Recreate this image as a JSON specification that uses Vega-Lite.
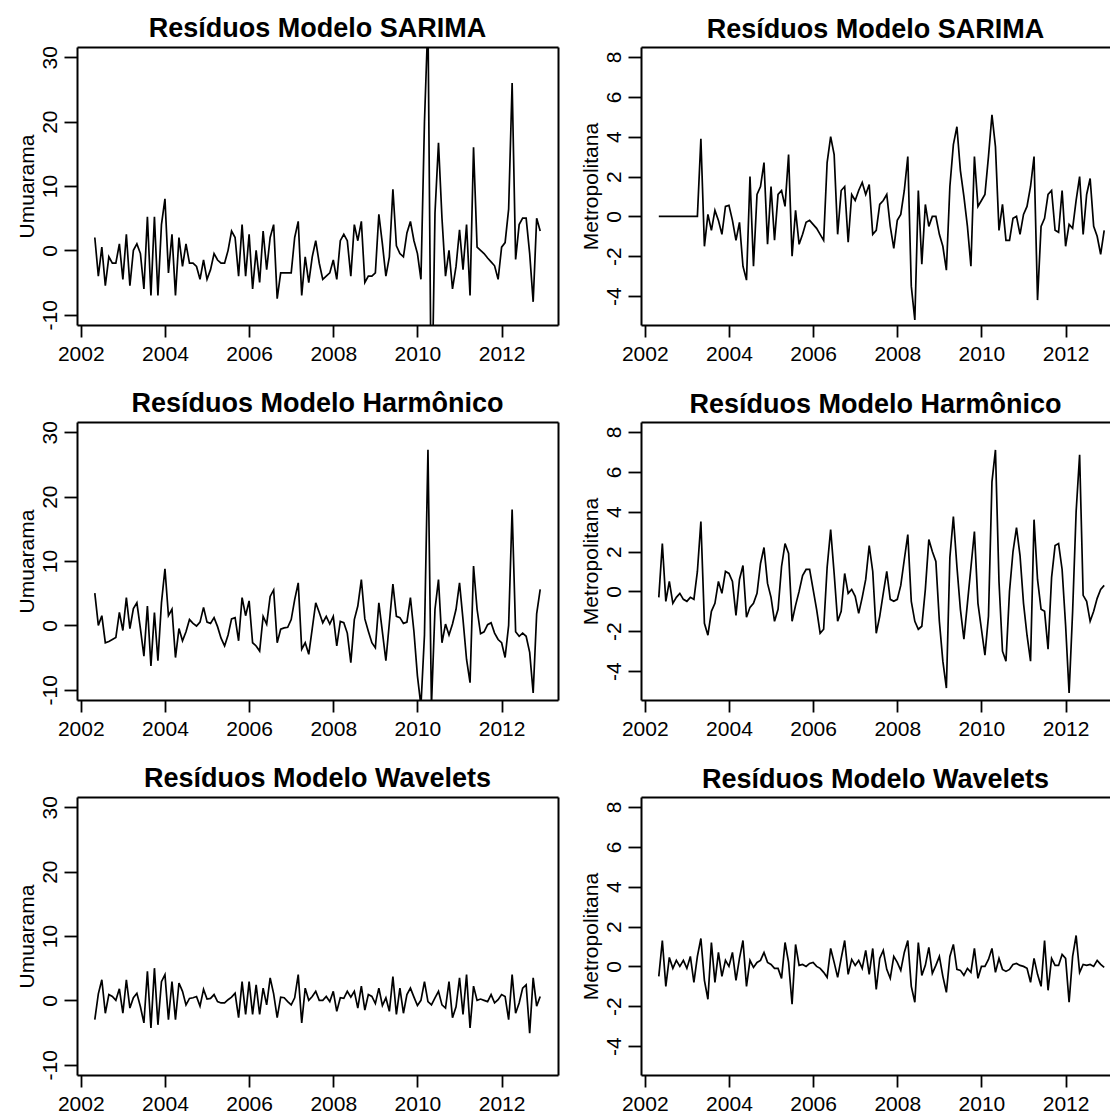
{
"$schema": "https://vega.github.io/schema/vega-lite/v6.json",
"background": "white",
"padding": {"left": 16, "top": 14, "right": 0, "bottom": 0},
"config": {
  "font": "Liberation Sans",
  "view": {"stroke": null},
  "title": {"font": "Liberation Sans", "fontSize": 27, "fontWeight": "bold", "color": "black", "anchor": "middle", "frame": "group", "offset": 3, "baseline": "alphabetic"},
  "axis": {"labelFont": "Liberation Sans", "labelFontSize": 21, "labelColor": "black", "titleFont": "Liberation Sans", "titleFontSize": 21, "titleFontWeight": "normal", "titleColor": "black", "tickColor": "black", "domainColor": "black", "tickSize": 13, "tickWidth": 1.8, "domainWidth": 2, "grid": false, "labelFlush": false, "labelOverlap": false, "labelBound": false},
  "axisX": {"labelAngle": 0, "labelAlign": "center", "labelBaseline": "top", "labelPadding": 6, "tickSize": 12},
  "axisY": {"labelAngle": -90, "labelAlign": "center", "labelBaseline": "alphabetic", "labelPadding": 8, "titleAngle": -90, "titleAlign": "center", "titleBaseline": "alphabetic", "titleX": -44, "titleY": 139}
},
"datasets": {
"A": [{"t":2002.333,"v":2},{"t":2002.417,"v":-4},{"t":2002.5,"v":0.5},{"t":2002.583,"v":-5.5},{"t":2002.667,"v":-1},{"t":2002.75,"v":-2},{"t":2002.833,"v":-2},{"t":2002.917,"v":1},
{"t":2003,"v":-4.5},{"t":2003.083,"v":2.5},{"t":2003.167,"v":-5.5},{"t":2003.25,"v":0},{"t":2003.333,"v":1},{"t":2003.417,"v":-0.5},{"t":2003.5,"v":-6},{"t":2003.583,"v":5.2},{"t":2003.667,"v":-7},{"t":2003.75,"v":5.2},{"t":2003.833,"v":-7},{"t":2003.917,"v":4},
{"t":2004,"v":8},{"t":2004.083,"v":-3.5},{"t":2004.167,"v":2.5},{"t":2004.25,"v":-7},{"t":2004.333,"v":2},{"t":2004.417,"v":-2.5},{"t":2004.5,"v":1},{"t":2004.583,"v":-2},{"t":2004.667,"v":-2},{"t":2004.75,"v":-2.5},{"t":2004.833,"v":-4.5},{"t":2004.917,"v":-1.5},
{"t":2005,"v":-4.5},{"t":2005.083,"v":-3},{"t":2005.167,"v":-0.5},{"t":2005.25,"v":-1.5},{"t":2005.333,"v":-2},{"t":2005.417,"v":-2},{"t":2005.5,"v":0},{"t":2005.583,"v":3},{"t":2005.667,"v":2},{"t":2005.75,"v":-4},{"t":2005.833,"v":4},{"t":2005.917,"v":-4},
{"t":2006,"v":2.5},{"t":2006.083,"v":-6},{"t":2006.167,"v":0},{"t":2006.25,"v":-5},{"t":2006.333,"v":3},{"t":2006.417,"v":-3},{"t":2006.5,"v":2},{"t":2006.583,"v":4},{"t":2006.667,"v":-7.5},{"t":2006.75,"v":-3.5},{"t":2006.833,"v":-3.5},{"t":2006.917,"v":-3.5},
{"t":2007,"v":-3.5},{"t":2007.083,"v":2},{"t":2007.167,"v":4.5},{"t":2007.25,"v":-7},{"t":2007.333,"v":-1},{"t":2007.417,"v":-5},{"t":2007.5,"v":-1},{"t":2007.583,"v":1.5},{"t":2007.667,"v":-2},{"t":2007.75,"v":-4.5},{"t":2007.833,"v":-4},{"t":2007.917,"v":-3.5},
{"t":2008,"v":-1.5},{"t":2008.083,"v":-4.5},{"t":2008.167,"v":1.5},{"t":2008.25,"v":2.5},{"t":2008.333,"v":1.5},{"t":2008.417,"v":-4},{"t":2008.5,"v":4},{"t":2008.583,"v":1.5},{"t":2008.667,"v":4.5},{"t":2008.75,"v":-5},{"t":2008.833,"v":-4},{"t":2008.917,"v":-4},
{"t":2009,"v":-3.5},{"t":2009.083,"v":5.6},{"t":2009.167,"v":1},{"t":2009.25,"v":-4},{"t":2009.333,"v":-1},{"t":2009.417,"v":9.5},{"t":2009.5,"v":0.7},{"t":2009.583,"v":-0.5},{"t":2009.667,"v":-1},{"t":2009.75,"v":2.7},{"t":2009.833,"v":4.5},{"t":2009.917,"v":1.5},
{"t":2010,"v":-0.5},{"t":2010.083,"v":-4.5},{"t":2010.167,"v":20},{"t":2010.25,"v":36},{"t":2010.333,"v":-28},{"t":2010.417,"v":5.8},{"t":2010.5,"v":16.7},{"t":2010.583,"v":5},{"t":2010.667,"v":-4},{"t":2010.75,"v":0},{"t":2010.833,"v":-6},{"t":2010.917,"v":-2.5},
{"t":2011,"v":3.2},{"t":2011.083,"v":-3},{"t":2011.167,"v":4},{"t":2011.25,"v":-7},{"t":2011.333,"v":16},{"t":2011.417,"v":0.5},{"t":2011.5,"v":0},{"t":2011.583,"v":-0.5},{"t":2011.667,"v":-1.2},{"t":2011.75,"v":-1.8},{"t":2011.833,"v":-2.4},{"t":2011.917,"v":-4.5},
{"t":2012,"v":0.5},{"t":2012.083,"v":1.2},{"t":2012.167,"v":6.4},{"t":2012.25,"v":26},{"t":2012.333,"v":-1.4},{"t":2012.417,"v":4},{"t":2012.5,"v":5},{"t":2012.583,"v":5},{"t":2012.667,"v":-0.5},{"t":2012.75,"v":-8},{"t":2012.833,"v":5},{"t":2012.917,"v":3}],
"B": [{"t":2002.333,"v":0},{"t":2002.417,"v":0},{"t":2002.5,"v":0},{"t":2002.583,"v":0},{"t":2002.667,"v":0},{"t":2002.75,"v":0},{"t":2002.833,"v":0},{"t":2002.917,"v":0},
{"t":2003,"v":0},{"t":2003.083,"v":0},{"t":2003.167,"v":0},{"t":2003.25,"v":0},{"t":2003.333,"v":3.9},{"t":2003.417,"v":-1.5},{"t":2003.5,"v":0.1},{"t":2003.583,"v":-0.7},{"t":2003.667,"v":0.3},{"t":2003.75,"v":-0.2},{"t":2003.833,"v":-0.9},{"t":2003.917,"v":0.5},
{"t":2004,"v":0.55},{"t":2004.083,"v":-0.2},{"t":2004.167,"v":-1.2},{"t":2004.25,"v":-0.3},{"t":2004.333,"v":-2.5},{"t":2004.417,"v":-3.2},{"t":2004.5,"v":2},{"t":2004.583,"v":-2.5},{"t":2004.667,"v":1.1},{"t":2004.75,"v":1.5},{"t":2004.833,"v":2.7},{"t":2004.917,"v":-1.4},
{"t":2005,"v":1.5},{"t":2005.083,"v":-1.2},{"t":2005.167,"v":1.1},{"t":2005.25,"v":1.3},{"t":2005.333,"v":0.5},{"t":2005.417,"v":3.1},{"t":2005.5,"v":-2},{"t":2005.583,"v":0.3},{"t":2005.667,"v":-1.4},{"t":2005.75,"v":-0.9},{"t":2005.833,"v":-0.3},{"t":2005.917,"v":-0.2},
{"t":2006,"v":-0.4},{"t":2006.083,"v":-0.6},{"t":2006.167,"v":-0.9},{"t":2006.25,"v":-1.2},{"t":2006.333,"v":2.7},{"t":2006.417,"v":4},{"t":2006.5,"v":3.1},{"t":2006.583,"v":-0.9},{"t":2006.667,"v":1.3},{"t":2006.75,"v":1.5},{"t":2006.833,"v":-1.3},{"t":2006.917,"v":1.1},
{"t":2007,"v":0.8},{"t":2007.083,"v":1.3},{"t":2007.167,"v":1.7},{"t":2007.25,"v":1.1},{"t":2007.333,"v":1.6},{"t":2007.417,"v":-0.9},{"t":2007.5,"v":-0.7},{"t":2007.583,"v":0.6},{"t":2007.667,"v":0.8},{"t":2007.75,"v":1.1},{"t":2007.833,"v":-0.5},{"t":2007.917,"v":-1.6},
{"t":2008,"v":-0.2},{"t":2008.083,"v":0.1},{"t":2008.167,"v":1.3},{"t":2008.25,"v":3},{"t":2008.333,"v":-3.5},{"t":2008.417,"v":-5.2},{"t":2008.5,"v":1.3},{"t":2008.583,"v":-2.4},{"t":2008.667,"v":0.6},{"t":2008.75,"v":-0.5},{"t":2008.833,"v":0},{"t":2008.917,"v":0},
{"t":2009,"v":-0.9},{"t":2009.083,"v":-1.5},{"t":2009.167,"v":-2.7},{"t":2009.25,"v":1.5},{"t":2009.333,"v":3.6},{"t":2009.417,"v":4.5},{"t":2009.5,"v":2.3},{"t":2009.583,"v":1},{"t":2009.667,"v":-0.5},{"t":2009.75,"v":-2.5},{"t":2009.833,"v":3},{"t":2009.917,"v":0.5},
{"t":2010,"v":0.8},{"t":2010.083,"v":1.1},{"t":2010.167,"v":3},{"t":2010.25,"v":5.1},{"t":2010.333,"v":3.5},{"t":2010.417,"v":-0.7},{"t":2010.5,"v":0.6},{"t":2010.583,"v":-1.2},{"t":2010.667,"v":-1.2},{"t":2010.75,"v":-0.1},{"t":2010.833,"v":0},{"t":2010.917,"v":-0.9},
{"t":2011,"v":0.1},{"t":2011.083,"v":0.5},{"t":2011.167,"v":1.5},{"t":2011.25,"v":3},{"t":2011.333,"v":-4.2},{"t":2011.417,"v":-0.5},{"t":2011.5,"v":-0.1},{"t":2011.583,"v":1.1},{"t":2011.667,"v":1.3},{"t":2011.75,"v":-0.7},{"t":2011.833,"v":-0.8},{"t":2011.917,"v":1.3},
{"t":2012,"v":-1.5},{"t":2012.083,"v":-0.4},{"t":2012.167,"v":-0.6},{"t":2012.25,"v":0.8},{"t":2012.333,"v":2},{"t":2012.417,"v":-0.9},{"t":2012.5,"v":1.1},{"t":2012.583,"v":1.9},{"t":2012.667,"v":-0.5},{"t":2012.75,"v":-1},{"t":2012.833,"v":-1.9},{"t":2012.917,"v":-0.7}],
"C": [{"t":2002.333,"v":5},{"t":2002.417,"v":0},{"t":2002.5,"v":1.5},{"t":2002.583,"v":-2.7},{"t":2002.667,"v":-2.5},{"t":2002.75,"v":-2.2},{"t":2002.833,"v":-1.9},{"t":2002.917,"v":2},
{"t":2003,"v":-0.8},{"t":2003.083,"v":4.3},{"t":2003.167,"v":-0.5},{"t":2003.25,"v":2.6},{"t":2003.333,"v":3.5},{"t":2003.417,"v":-0.5},{"t":2003.5,"v":-4.8},{"t":2003.583,"v":3},{"t":2003.667,"v":-6.3},{"t":2003.75,"v":2},{"t":2003.833,"v":-5.5},{"t":2003.917,"v":3.5},
{"t":2004,"v":8.8},{"t":2004.083,"v":1.5},{"t":2004.167,"v":2.5},{"t":2004.25,"v":-5},{"t":2004.333,"v":-0.5},{"t":2004.417,"v":-2.4},{"t":2004.5,"v":-1},{"t":2004.583,"v":0.9},{"t":2004.667,"v":0.3},{"t":2004.75,"v":-0.1},{"t":2004.833,"v":0.5},{"t":2004.917,"v":2.8},
{"t":2005,"v":0.5},{"t":2005.083,"v":0.3},{"t":2005.167,"v":1.2},{"t":2005.25,"v":-0.2},{"t":2005.333,"v":-2},{"t":2005.417,"v":-3.2},{"t":2005.5,"v":-1.5},{"t":2005.583,"v":1},{"t":2005.667,"v":1.2},{"t":2005.75,"v":-2.4},{"t":2005.833,"v":4.3},{"t":2005.917,"v":1.5},
{"t":2006,"v":3.8},{"t":2006.083,"v":-2.7},{"t":2006.167,"v":-3.2},{"t":2006.25,"v":-4},{"t":2006.333,"v":1.4},{"t":2006.417,"v":0.2},{"t":2006.5,"v":4.5},{"t":2006.583,"v":5.5},{"t":2006.667,"v":-2.7},{"t":2006.75,"v":-0.6},{"t":2006.833,"v":-0.4},{"t":2006.917,"v":-0.3},
{"t":2007,"v":0.9},{"t":2007.083,"v":4},{"t":2007.167,"v":6.6},{"t":2007.25,"v":-3.7},{"t":2007.333,"v":-2.7},{"t":2007.417,"v":-4.5},{"t":2007.5,"v":-0.5},{"t":2007.583,"v":3.5},{"t":2007.667,"v":2},{"t":2007.75,"v":0.4},{"t":2007.833,"v":1.4},{"t":2007.917,"v":0.2},
{"t":2008,"v":1.4},{"t":2008.083,"v":-3.2},{"t":2008.167,"v":0.6},{"t":2008.25,"v":0.4},{"t":2008.333,"v":-1.2},{"t":2008.417,"v":-5.8},{"t":2008.5,"v":0.9},{"t":2008.583,"v":3},{"t":2008.667,"v":7.1},{"t":2008.75,"v":1},{"t":2008.833,"v":-0.9},{"t":2008.917,"v":-2.7},
{"t":2009,"v":-3.5},{"t":2009.083,"v":3.5},{"t":2009.167,"v":-1},{"t":2009.25,"v":-5.5},{"t":2009.333,"v":0.4},{"t":2009.417,"v":6.4},{"t":2009.5,"v":1.4},{"t":2009.583,"v":1.2},{"t":2009.667,"v":0.3},{"t":2009.75,"v":0.5},{"t":2009.833,"v":4.3},{"t":2009.917,"v":-1},
{"t":2010,"v":-7.9},{"t":2010.083,"v":-12.5},{"t":2010.167,"v":-1.5},{"t":2010.25,"v":27.3},{"t":2010.333,"v":-12.5},{"t":2010.417,"v":2.5},{"t":2010.5,"v":7.1},{"t":2010.583,"v":-2.7},{"t":2010.667,"v":0.2},{"t":2010.75,"v":-1.5},{"t":2010.833,"v":0.2},{"t":2010.917,"v":2.5},
{"t":2011,"v":6.6},{"t":2011.083,"v":0.9},{"t":2011.167,"v":-5.3},{"t":2011.25,"v":-8.9},{"t":2011.333,"v":9.2},{"t":2011.417,"v":2.5},{"t":2011.5,"v":-1.3},{"t":2011.583,"v":-1},{"t":2011.667,"v":0.1},{"t":2011.75,"v":0.4},{"t":2011.833,"v":-1.2},{"t":2011.917,"v":-2.2},
{"t":2012,"v":-2.7},{"t":2012.083,"v":-5},{"t":2012.167,"v":0},{"t":2012.25,"v":18},{"t":2012.333,"v":-1},{"t":2012.417,"v":-1.7},{"t":2012.5,"v":-1.2},{"t":2012.583,"v":-1.7},{"t":2012.667,"v":-4.2},{"t":2012.75,"v":-10.5},{"t":2012.833,"v":1.8},{"t":2012.917,"v":5.6}],
"D": [{"t":2002.333,"v":-0.3},{"t":2002.417,"v":2.4},{"t":2002.5,"v":-0.5},{"t":2002.583,"v":0.5},{"t":2002.667,"v":-0.6},{"t":2002.75,"v":-0.3},{"t":2002.833,"v":-0.1},{"t":2002.917,"v":-0.4},
{"t":2003,"v":-0.5},{"t":2003.083,"v":-0.3},{"t":2003.167,"v":-0.4},{"t":2003.25,"v":1},{"t":2003.333,"v":3.5},{"t":2003.417,"v":-1.6},{"t":2003.5,"v":-2.2},{"t":2003.583,"v":-1},{"t":2003.667,"v":-0.6},{"t":2003.75,"v":0.5},{"t":2003.833,"v":-0.1},{"t":2003.917,"v":1},
{"t":2004,"v":0.9},{"t":2004.083,"v":0.5},{"t":2004.167,"v":-1.2},{"t":2004.25,"v":0.6},{"t":2004.333,"v":1.3},{"t":2004.417,"v":-1.3},{"t":2004.5,"v":-0.8},{"t":2004.583,"v":-0.6},{"t":2004.667,"v":-0.1},{"t":2004.75,"v":1.4},{"t":2004.833,"v":2.2},{"t":2004.917,"v":0.4},
{"t":2005,"v":-0.3},{"t":2005.083,"v":-1.5},{"t":2005.167,"v":-0.9},{"t":2005.25,"v":1.25},{"t":2005.333,"v":2.4},{"t":2005.417,"v":1.9},{"t":2005.5,"v":-1.5},{"t":2005.583,"v":-0.7},{"t":2005.667,"v":0},{"t":2005.75,"v":0.8},{"t":2005.833,"v":1.1},{"t":2005.917,"v":1.1},
{"t":2006,"v":0.1},{"t":2006.083,"v":-0.9},{"t":2006.167,"v":-2.1},{"t":2006.25,"v":-1.9},{"t":2006.333,"v":1.2},{"t":2006.417,"v":3.1},{"t":2006.5,"v":0.9},{"t":2006.583,"v":-1.5},{"t":2006.667,"v":-1},{"t":2006.75,"v":0.9},{"t":2006.833,"v":-0.1},{"t":2006.917,"v":0.1},
{"t":2007,"v":-0.25},{"t":2007.083,"v":-1.1},{"t":2007.167,"v":-0.3},{"t":2007.25,"v":0.6},{"t":2007.333,"v":2.3},{"t":2007.417,"v":1},{"t":2007.5,"v":-2.1},{"t":2007.583,"v":-1.25},{"t":2007.667,"v":-0.1},{"t":2007.75,"v":1},{"t":2007.833,"v":-0.4},{"t":2007.917,"v":-0.5},
{"t":2008,"v":-0.4},{"t":2008.083,"v":0.3},{"t":2008.167,"v":1.6},{"t":2008.25,"v":2.85},{"t":2008.333,"v":-0.5},{"t":2008.417,"v":-1.5},{"t":2008.5,"v":-1.9},{"t":2008.583,"v":-1.75},{"t":2008.667,"v":0.1},{"t":2008.75,"v":2.6},{"t":2008.833,"v":2},{"t":2008.917,"v":1.5},
{"t":2009,"v":-1.5},{"t":2009.083,"v":-3.5},{"t":2009.167,"v":-4.85},{"t":2009.25,"v":1.7},{"t":2009.333,"v":3.75},{"t":2009.417,"v":1.25},{"t":2009.5,"v":-0.9},{"t":2009.583,"v":-2.4},{"t":2009.667,"v":-0.6},{"t":2009.75,"v":1.2},{"t":2009.833,"v":3},{"t":2009.917,"v":-0.6},
{"t":2010,"v":-1.9},{"t":2010.083,"v":-3.2},{"t":2010.167,"v":-1.25},{"t":2010.25,"v":5.5},{"t":2010.333,"v":7.1},{"t":2010.417,"v":0.5},{"t":2010.5,"v":-3},{"t":2010.583,"v":-3.5},{"t":2010.667,"v":0},{"t":2010.75,"v":2},{"t":2010.833,"v":3.2},{"t":2010.917,"v":1.8},
{"t":2011,"v":-0.6},{"t":2011.083,"v":-2.2},{"t":2011.167,"v":-3.5},{"t":2011.25,"v":3.6},{"t":2011.333,"v":0.6},{"t":2011.417,"v":-0.9},{"t":2011.5,"v":-1},{"t":2011.583,"v":-2.9},{"t":2011.667,"v":0.7},{"t":2011.75,"v":2.3},{"t":2011.833,"v":2.4},{"t":2011.917,"v":1.1},
{"t":2012,"v":-1.7},{"t":2012.083,"v":-5.1},{"t":2012.167,"v":-1},{"t":2012.25,"v":4},{"t":2012.333,"v":6.85},{"t":2012.417,"v":-0.2},{"t":2012.5,"v":-0.5},{"t":2012.583,"v":-1.5},{"t":2012.667,"v":-1},{"t":2012.75,"v":-0.35},{"t":2012.833,"v":0.1},{"t":2012.917,"v":0.3}],
"E": [{"t":2002.333,"v":-3},{"t":2002.417,"v":1},{"t":2002.5,"v":3.2},{"t":2002.583,"v":-2},{"t":2002.667,"v":0.9},{"t":2002.75,"v":0.6},{"t":2002.833,"v":0},{"t":2002.917,"v":1.8},
{"t":2003,"v":-2},{"t":2003.083,"v":3.2},{"t":2003.167,"v":-1.2},{"t":2003.25,"v":0.4},{"t":2003.333,"v":1.1},{"t":2003.417,"v":-1},{"t":2003.5,"v":-3.5},{"t":2003.583,"v":4.5},{"t":2003.667,"v":-4.3},{"t":2003.75,"v":5},{"t":2003.833,"v":-3.8},{"t":2003.917,"v":2.9},
{"t":2004,"v":4},{"t":2004.083,"v":-3},{"t":2004.167,"v":2.9},{"t":2004.25,"v":-3},{"t":2004.333,"v":2.7},{"t":2004.417,"v":1.4},{"t":2004.5,"v":-0.7},{"t":2004.583,"v":0.3},{"t":2004.667,"v":0.4},{"t":2004.75,"v":0.6},{"t":2004.833,"v":-0.9},{"t":2004.917,"v":1.7},
{"t":2005,"v":0.2},{"t":2005.083,"v":0.3},{"t":2005.167,"v":0.9},{"t":2005.25,"v":-0.2},{"t":2005.333,"v":-0.4},{"t":2005.417,"v":-0.4},{"t":2005.5,"v":0.1},{"t":2005.583,"v":0.5},{"t":2005.667,"v":1.1},{"t":2005.75,"v":-2.7},{"t":2005.833,"v":2.9},{"t":2005.917,"v":-2.2},
{"t":2006,"v":2.9},{"t":2006.083,"v":-2.2},{"t":2006.167,"v":2.4},{"t":2006.25,"v":-2.2},{"t":2006.333,"v":1.9},{"t":2006.417,"v":-0.7},{"t":2006.5,"v":3.5},{"t":2006.583,"v":1},{"t":2006.667,"v":-2.7},{"t":2006.75,"v":0.5},{"t":2006.833,"v":0.4},{"t":2006.917,"v":-0.2},
{"t":2007,"v":-0.7},{"t":2007.083,"v":0.4},{"t":2007.167,"v":4},{"t":2007.25,"v":-3.5},{"t":2007.333,"v":1.9},{"t":2007.417,"v":0},{"t":2007.5,"v":0.6},{"t":2007.583,"v":1.4},{"t":2007.667,"v":0},{"t":2007.75,"v":0},{"t":2007.833,"v":0.6},{"t":2007.917,"v":-0.2},
{"t":2008,"v":1.4},{"t":2008.083,"v":-1.7},{"t":2008.167,"v":0.4},{"t":2008.25,"v":0.3},{"t":2008.333,"v":1.4},{"t":2008.417,"v":0.5},{"t":2008.5,"v":1.4},{"t":2008.583,"v":-1.2},{"t":2008.667,"v":2.2},{"t":2008.75,"v":-1.5},{"t":2008.833,"v":0.9},{"t":2008.917,"v":0.6},
{"t":2009,"v":-0.5},{"t":2009.083,"v":1.9},{"t":2009.167,"v":-0.8},{"t":2009.25,"v":0.4},{"t":2009.333,"v":-1.7},{"t":2009.417,"v":3.7},{"t":2009.5,"v":-2.2},{"t":2009.583,"v":1.9},{"t":2009.667,"v":-2},{"t":2009.75,"v":0.9},{"t":2009.833,"v":1.9},{"t":2009.917,"v":0.5},
{"t":2010,"v":-0.8},{"t":2010.083,"v":0},{"t":2010.167,"v":2.9},{"t":2010.25,"v":-0.2},{"t":2010.333,"v":-0.7},{"t":2010.417,"v":0.4},{"t":2010.5,"v":1.4},{"t":2010.583,"v":-0.7},{"t":2010.667,"v":-1.2},{"t":2010.75,"v":2.9},{"t":2010.833,"v":-2.7},{"t":2010.917,"v":-1},
{"t":2011,"v":3.5},{"t":2011.083,"v":-2.2},{"t":2011.167,"v":4},{"t":2011.25,"v":-4.3},{"t":2011.333,"v":2.2},{"t":2011.417,"v":0},{"t":2011.5,"v":0.2},{"t":2011.583,"v":0},{"t":2011.667,"v":-0.2},{"t":2011.75,"v":0.9},{"t":2011.833,"v":-0.4},{"t":2011.917,"v":0.1},
{"t":2012,"v":0.9},{"t":2012.083,"v":0.6},{"t":2012.167,"v":-3},{"t":2012.25,"v":4},{"t":2012.333,"v":-2},{"t":2012.417,"v":-0.4},{"t":2012.5,"v":1.9},{"t":2012.583,"v":2.4},{"t":2012.667,"v":-5.1},{"t":2012.75,"v":3.5},{"t":2012.833,"v":-0.9},{"t":2012.917,"v":0.6}],
"F": [{"t":2002.333,"v":-0.5},{"t":2002.417,"v":1.3},{"t":2002.5,"v":-1},{"t":2002.583,"v":0.45},{"t":2002.667,"v":-0.1},{"t":2002.75,"v":0.3},{"t":2002.833,"v":0},{"t":2002.917,"v":0.3},
{"t":2003,"v":-0.1},{"t":2003.083,"v":0.5},{"t":2003.167,"v":-0.8},{"t":2003.25,"v":0.5},{"t":2003.333,"v":1.4},{"t":2003.417,"v":-0.7},{"t":2003.5,"v":-1.65},{"t":2003.583,"v":1.2},{"t":2003.667,"v":-0.8},{"t":2003.75,"v":0.7},{"t":2003.833,"v":-0.5},{"t":2003.917,"v":0.3},
{"t":2004,"v":0},{"t":2004.083,"v":0.7},{"t":2004.167,"v":-0.7},{"t":2004.25,"v":0.4},{"t":2004.333,"v":1.3},{"t":2004.417,"v":-1},{"t":2004.5,"v":0.3},{"t":2004.583,"v":-0.05},{"t":2004.667,"v":0.2},{"t":2004.75,"v":0.3},{"t":2004.833,"v":0.7},{"t":2004.917,"v":0.2},
{"t":2005,"v":0.1},{"t":2005.083,"v":-0.1},{"t":2005.167,"v":-0.1},{"t":2005.25,"v":-0.6},{"t":2005.333,"v":1.2},{"t":2005.417,"v":0.2},{"t":2005.5,"v":-1.9},{"t":2005.583,"v":1.1},{"t":2005.667,"v":0.05},{"t":2005.75,"v":0.1},{"t":2005.833,"v":0},{"t":2005.917,"v":0.15},
{"t":2006,"v":0.2},{"t":2006.083,"v":0},{"t":2006.167,"v":-0.1},{"t":2006.25,"v":-0.3},{"t":2006.333,"v":-0.55},{"t":2006.417,"v":0.9},{"t":2006.5,"v":0.2},{"t":2006.583,"v":-0.55},{"t":2006.667,"v":0.4},{"t":2006.75,"v":1.3},{"t":2006.833,"v":-0.4},{"t":2006.917,"v":0.35},
{"t":2007,"v":0.05},{"t":2007.083,"v":0.3},{"t":2007.167,"v":-0.1},{"t":2007.25,"v":0.8},{"t":2007.333,"v":-0.4},{"t":2007.417,"v":0.9},{"t":2007.5,"v":-1.15},{"t":2007.583,"v":0.4},{"t":2007.667,"v":0.8},{"t":2007.75,"v":-0.15},{"t":2007.833,"v":-0.6},{"t":2007.917,"v":0.5},
{"t":2008,"v":0.2},{"t":2008.083,"v":-0.2},{"t":2008.167,"v":0.7},{"t":2008.25,"v":1.3},{"t":2008.333,"v":-1},{"t":2008.417,"v":-1.8},{"t":2008.5,"v":1.2},{"t":2008.583,"v":-0.45},{"t":2008.667,"v":0.05},{"t":2008.75,"v":0.95},{"t":2008.833,"v":-0.35},{"t":2008.917,"v":0.05},
{"t":2009,"v":0.5},{"t":2009.083,"v":-0.5},{"t":2009.167,"v":-1.3},{"t":2009.25,"v":0.5},{"t":2009.333,"v":1.1},{"t":2009.417,"v":-0.15},{"t":2009.5,"v":-0.2},{"t":2009.583,"v":-0.45},{"t":2009.667,"v":-0.1},{"t":2009.75,"v":-0.3},{"t":2009.833,"v":0.9},{"t":2009.917,"v":-0.6},
{"t":2010,"v":0},{"t":2010.083,"v":0},{"t":2010.167,"v":0.35},{"t":2010.25,"v":0.9},{"t":2010.333,"v":-0.3},{"t":2010.417,"v":0.4},{"t":2010.5,"v":-0.15},{"t":2010.583,"v":-0.25},{"t":2010.667,"v":-0.15},{"t":2010.75,"v":0.1},{"t":2010.833,"v":0.15},{"t":2010.917,"v":0.05},
{"t":2011,"v":0},{"t":2011.083,"v":-0.1},{"t":2011.167,"v":-0.8},{"t":2011.25,"v":0.4},{"t":2011.333,"v":-0.4},{"t":2011.417,"v":-1},{"t":2011.5,"v":1.3},{"t":2011.583,"v":-1.2},{"t":2011.667,"v":0.4},{"t":2011.75,"v":0.05},{"t":2011.833,"v":0.05},{"t":2011.917,"v":0.6},
{"t":2012,"v":0.4},{"t":2012.083,"v":-1.8},{"t":2012.167,"v":0.5},{"t":2012.25,"v":1.55},{"t":2012.333,"v":-0.3},{"t":2012.417,"v":0.1},{"t":2012.5,"v":0.05},{"t":2012.583,"v":0.1},{"t":2012.667,"v":0},{"t":2012.75,"v":0.3},{"t":2012.833,"v":0.1},{"t":2012.917,"v":-0.05}]
},
"columns": 2,
"spacing": {"row": 97, "column": 83},
"bounds": "flush",
"concat": [
{"data": {"name": "A"}, "title": "Resíduos Modelo SARIMA", "width": 481, "height": 278,
 "layer": [
  {"mark": {"type": "line", "clip": true, "color": "black", "strokeWidth": 1.7},
   "encoding": {
    "x": {"field": "t", "type": "quantitative", "scale": {"domain": [2001.91, 2013.34], "nice": false, "zero": false}, "axis": {"orient": "bottom", "title": null, "values": [2002,2004,2006,2008,2010,2012], "labelExpr": "'' + datum.value"}},
    "y": {"field": "v", "type": "quantitative", "scale": {"domain": [-11.6, 31.6], "nice": false, "zero": false}, "axis": {"orient": "left", "title": "Umuarama", "values": [-10,0,10,20,30], "labelExpr": "'' + datum.value"}}}},
  {"transform": [{"filter": "false"}], "mark": "point",
   "encoding": {
    "x": {"field": "t", "type": "quantitative", "scale": {"domain": [2001.91, 2013.34], "nice": false, "zero": false}, "axis": {"orient": "top", "title": null, "labels": false, "ticks": false}},
    "y": {"field": "v", "type": "quantitative", "scale": {"domain": [-11.6, 31.6], "nice": false, "zero": false}, "axis": {"orient": "right", "title": null, "labels": false, "ticks": false}}}}
 ],
 "resolve": {"axis": {"x": "independent", "y": "independent"}}},
{"data": {"name": "B"}, "title": "Resíduos Modelo SARIMA", "width": 469, "height": 278,
 "layer": [
  {"mark": {"type": "line", "clip": true, "color": "black", "strokeWidth": 1.7},
   "encoding": {
    "x": {"field": "t", "type": "quantitative", "scale": {"domain": [2001.91, 2013.055], "nice": false, "zero": false}, "axis": {"orient": "bottom", "title": null, "values": [2002,2004,2006,2008,2010,2012], "labelExpr": "'' + datum.value"}},
    "y": {"field": "v", "type": "quantitative", "scale": {"domain": [-5.45, 8.5], "nice": false, "zero": false}, "axis": {"orient": "left", "title": "Metropolitana", "values": [-4,-2,0,2,4,6,8], "labelExpr": "'' + datum.value"}}}},
  {"transform": [{"filter": "false"}], "mark": "point",
   "encoding": {
    "x": {"field": "t", "type": "quantitative", "scale": {"domain": [2001.91, 2013.055], "nice": false, "zero": false}, "axis": {"orient": "top", "title": null, "labels": false, "ticks": false}},
    "y": {"field": "v", "type": "quantitative", "scale": {"domain": [-5.45, 8.5], "nice": false, "zero": false}, "axis": null}}}
 ],
 "resolve": {"axis": {"x": "independent", "y": "independent"}}},
{"data": {"name": "C"}, "title": "Resíduos Modelo Harmônico", "width": 481, "height": 278,
 "layer": [
  {"mark": {"type": "line", "clip": true, "color": "black", "strokeWidth": 1.7},
   "encoding": {
    "x": {"field": "t", "type": "quantitative", "scale": {"domain": [2001.91, 2013.34], "nice": false, "zero": false}, "axis": {"orient": "bottom", "title": null, "values": [2002,2004,2006,2008,2010,2012], "labelExpr": "'' + datum.value"}},
    "y": {"field": "v", "type": "quantitative", "scale": {"domain": [-11.6, 31.6], "nice": false, "zero": false}, "axis": {"orient": "left", "title": "Umuarama", "values": [-10,0,10,20,30], "labelExpr": "'' + datum.value"}}}},
  {"transform": [{"filter": "false"}], "mark": "point",
   "encoding": {
    "x": {"field": "t", "type": "quantitative", "scale": {"domain": [2001.91, 2013.34], "nice": false, "zero": false}, "axis": {"orient": "top", "title": null, "labels": false, "ticks": false}},
    "y": {"field": "v", "type": "quantitative", "scale": {"domain": [-11.6, 31.6], "nice": false, "zero": false}, "axis": {"orient": "right", "title": null, "labels": false, "ticks": false}}}}
 ],
 "resolve": {"axis": {"x": "independent", "y": "independent"}}},
{"data": {"name": "D"}, "title": "Resíduos Modelo Harmônico", "width": 469, "height": 278,
 "layer": [
  {"mark": {"type": "line", "clip": true, "color": "black", "strokeWidth": 1.7},
   "encoding": {
    "x": {"field": "t", "type": "quantitative", "scale": {"domain": [2001.91, 2013.055], "nice": false, "zero": false}, "axis": {"orient": "bottom", "title": null, "values": [2002,2004,2006,2008,2010,2012], "labelExpr": "'' + datum.value"}},
    "y": {"field": "v", "type": "quantitative", "scale": {"domain": [-5.45, 8.5], "nice": false, "zero": false}, "axis": {"orient": "left", "title": "Metropolitana", "values": [-4,-2,0,2,4,6,8], "labelExpr": "'' + datum.value"}}}},
  {"transform": [{"filter": "false"}], "mark": "point",
   "encoding": {
    "x": {"field": "t", "type": "quantitative", "scale": {"domain": [2001.91, 2013.055], "nice": false, "zero": false}, "axis": {"orient": "top", "title": null, "labels": false, "ticks": false}},
    "y": {"field": "v", "type": "quantitative", "scale": {"domain": [-5.45, 8.5], "nice": false, "zero": false}, "axis": null}}}
 ],
 "resolve": {"axis": {"x": "independent", "y": "independent"}}},
{"data": {"name": "E"}, "title": "Resíduos Modelo Wavelets", "width": 481, "height": 278,
 "layer": [
  {"mark": {"type": "line", "clip": true, "color": "black", "strokeWidth": 1.7},
   "encoding": {
    "x": {"field": "t", "type": "quantitative", "scale": {"domain": [2001.91, 2013.34], "nice": false, "zero": false}, "axis": {"orient": "bottom", "title": null, "values": [2002,2004,2006,2008,2010,2012], "labelExpr": "'' + datum.value"}},
    "y": {"field": "v", "type": "quantitative", "scale": {"domain": [-11.6, 31.6], "nice": false, "zero": false}, "axis": {"orient": "left", "title": "Umuarama", "values": [-10,0,10,20,30], "labelExpr": "'' + datum.value"}}}},
  {"transform": [{"filter": "false"}], "mark": "point",
   "encoding": {
    "x": {"field": "t", "type": "quantitative", "scale": {"domain": [2001.91, 2013.34], "nice": false, "zero": false}, "axis": {"orient": "top", "title": null, "labels": false, "ticks": false}},
    "y": {"field": "v", "type": "quantitative", "scale": {"domain": [-11.6, 31.6], "nice": false, "zero": false}, "axis": {"orient": "right", "title": null, "labels": false, "ticks": false}}}}
 ],
 "resolve": {"axis": {"x": "independent", "y": "independent"}}},
{"data": {"name": "F"}, "title": "Resíduos Modelo Wavelets", "width": 469, "height": 278,
 "layer": [
  {"mark": {"type": "line", "clip": true, "color": "black", "strokeWidth": 1.7},
   "encoding": {
    "x": {"field": "t", "type": "quantitative", "scale": {"domain": [2001.91, 2013.055], "nice": false, "zero": false}, "axis": {"orient": "bottom", "title": null, "values": [2002,2004,2006,2008,2010,2012], "labelExpr": "'' + datum.value"}},
    "y": {"field": "v", "type": "quantitative", "scale": {"domain": [-5.45, 8.5], "nice": false, "zero": false}, "axis": {"orient": "left", "title": "Metropolitana", "values": [-4,-2,0,2,4,6,8], "labelExpr": "'' + datum.value"}}}},
  {"transform": [{"filter": "false"}], "mark": "point",
   "encoding": {
    "x": {"field": "t", "type": "quantitative", "scale": {"domain": [2001.91, 2013.055], "nice": false, "zero": false}, "axis": {"orient": "top", "title": null, "labels": false, "ticks": false}},
    "y": {"field": "v", "type": "quantitative", "scale": {"domain": [-5.45, 8.5], "nice": false, "zero": false}, "axis": null}}}
 ],
 "resolve": {"axis": {"x": "independent", "y": "independent"}}}
]
}
